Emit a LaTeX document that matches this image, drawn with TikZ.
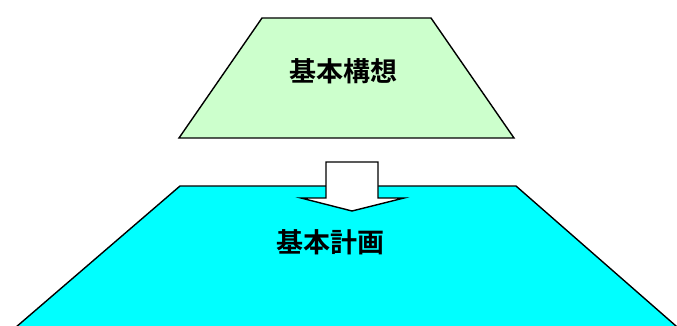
\documentclass[tikz,border=0pt]{standalone}
\usepackage{fontspec}
\newfontfamily\cjk{Noto Sans CJK JP}[BoldFont={Noto Sans CJK JP Bold}]
\definecolor{lightgreen}{HTML}{CCFFCC}
\definecolor{cyanfill}{HTML}{00FFFF}
\tikzset{
  trap/.style={draw=black, line width=1.4pt, line join=miter},
  lbl/.style={font=\cjk\bfseries\fontsize{27}{30}\selectfont, inner sep=0pt},
  blockarrow/.style={draw=black, fill=white, line width=1.4pt, line join=miter}
}
\begin{document}
\begin{tikzpicture}[x=1pt,y=-1pt]
\useasboundingbox (0,0) rectangle (677,326);
\begin{scope}
\clip (0,0) rectangle (677,326);
% upper trapezoid
\draw[trap, fill=lightgreen] (262,18) -- (431,18) -- (514,138) -- (179,138) -- cycle;
\node[lbl] (kousou) at (343,71) {基本構想};
% lower trapezoid (runs past the lower edge of the picture)
\draw[trap, fill=cyanfill] (180,186) -- (516,186) -- (692,340) -- (1,340) -- cycle;
\node[lbl] (keikaku) at (330,242) {基本計画};
% block arrow
\draw[blockarrow] (326,162) -- (378,162) -- (378,198) -- (404,198) -- (352,211) -- (301,198) -- (326,198) -- cycle;
\end{scope}
\end{tikzpicture}
\end{document}
